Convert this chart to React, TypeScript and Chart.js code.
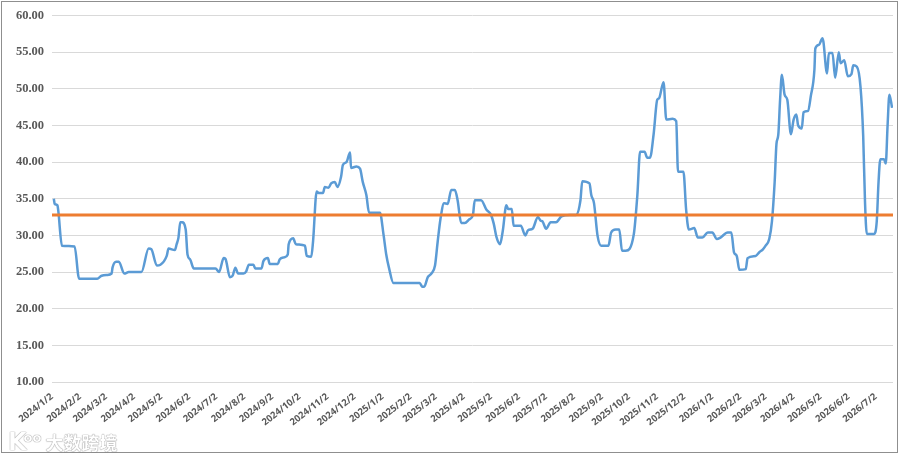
import React, { useEffect, useRef } from "react";
import { Chart, registerables } from "chart.js";

Chart.register(...registerables);

// Days elapsed since 2024/1/2 for each observation
const days = [
  2, 3, 6, 7, 11, 25, 30, 50, 55, 61, 66, 67, 71, 74, 80, 85, 99, 107, 110, 116,
  120, 127, 129, 136, 138, 140, 142, 144, 148, 150, 153, 157, 181, 185, 190, 192, 197, 200, 203, 206,
  212, 215, 218, 223, 225, 232, 234, 239, 241, 250, 252, 257, 261, 262, 267, 270, 280, 282, 287, 289,
  293, 295, 300, 302, 306, 309, 313, 316, 320, 322, 326, 330, 331, 337, 341, 344, 348, 351, 363, 367,
  370, 373, 378, 407, 410, 412, 416, 420, 424, 427, 430, 434, 438, 442, 446, 449, 453, 457, 462, 466,
  468, 475, 481, 486, 489, 492, 496, 499, 503, 505, 509, 511, 519, 524, 527, 532, 538, 541, 543, 547,
  552, 558, 564, 573, 580, 585, 587, 595, 597, 600, 604, 608, 616, 619, 624, 628, 631, 635, 644, 648,
  651, 656, 659, 662, 666, 670, 672, 677, 680, 687, 691, 693, 699, 702, 705, 711, 715, 720, 726, 731,
  736, 740, 748, 752, 755, 758, 761, 768, 770, 779, 783, 787, 790, 794, 797, 800, 802, 804, 806, 808,
  811, 814, 818, 821, 824, 826, 830, 832, 837, 840, 844, 845, 849, 853, 858, 860, 864, 867, 871, 873,
  877, 881, 885, 887, 891, 895, 898, 900, 902, 910, 913, 915, 917, 921, 923, 925, 927, 930,
];

const values = [
  35.0, 34.3, 34.1, 33.3, 28.6, 28.5, 24.1, 24.1, 24.5, 24.6, 24.8, 25.6, 26.4, 26.4, 24.8, 25.0, 25.0, 28.2, 28.1, 25.9,
  26.0, 27.2, 28.2, 28.0, 28.8, 29.7, 31.8, 31.8, 30.8, 27.4, 26.7, 25.5, 25.5, 25.0, 26.9, 26.8, 24.3, 24.5, 25.6, 24.8,
  24.8, 25.1, 26.0, 26.0, 25.5, 25.5, 26.5, 26.9, 26.1, 26.1, 26.7, 27.0, 27.4, 28.8, 29.6, 28.8, 28.6, 27.2, 27.1, 29.2,
  36.0, 35.8, 35.8, 36.6, 36.5, 37.1, 37.3, 36.6, 38.0, 39.6, 40.0, 41.3, 39.2, 39.4, 39.1, 37.3, 35.5, 33.1, 33.1, 30.1,
  27.4, 25.6, 23.5, 23.5, 23.0, 23.0, 24.3, 24.8, 25.9, 29.2, 32.2, 34.4, 34.3, 36.2, 36.2, 34.8, 31.7, 31.7, 32.2, 32.8,
  34.8, 34.8, 33.5, 32.8, 31.6, 29.8, 28.8, 30.6, 34.1, 33.6, 33.6, 31.3, 31.3, 30.0, 30.7, 30.9, 32.5, 32.0, 31.9, 30.9,
  31.8, 31.8, 32.6, 32.8, 32.8, 34.8, 37.4, 37.1, 35.5, 34.4, 29.9, 28.6, 28.6, 30.4, 30.8, 30.8, 27.9, 27.9, 30.1, 35.5,
  41.4, 41.4, 40.6, 40.6, 43.8, 48.5, 48.7, 50.9, 45.8, 45.9, 45.6, 38.7, 38.7, 33.5, 30.8, 31.0, 29.7, 29.7, 30.4, 30.4,
  29.5, 29.7, 30.4, 30.4, 27.7, 27.2, 25.3, 25.4, 26.9, 27.2, 27.7, 28.1, 28.6, 29.5, 31.9, 37.3, 42.5, 43.7, 48.5, 51.9,
  49.2, 48.5, 43.8, 45.8, 46.5, 45.0, 44.6, 46.8, 47.0, 49.0, 52.6, 55.5, 56.0, 56.9, 52.1, 54.9, 54.9, 51.5, 55.0, 53.5,
  53.9, 51.7, 52.0, 53.2, 53.0, 50.3, 43.6, 34.6, 30.2, 30.2, 31.9, 37.3, 40.4, 40.4, 39.8, 45.0, 49.2, 47.4,
];

const averageValue = 32.8;

const monthTickLabels = [
  "2024/1/2", "2024/2/2", "2024/3/2", "2024/4/2", "2024/5/2", "2024/6/2", "2024/7/2", "2024/8/2",
  "2024/9/2", "2024/10/2", "2024/11/2", "2024/12/2", "2025/1/2", "2025/2/2", "2025/3/2", "2025/4/2",
  "2025/5/2", "2025/6/2", "2025/7/2", "2025/8/2", "2025/9/2", "2025/10/2", "2025/11/2", "2025/12/2",
  "2026/1/2", "2026/2/2", "2026/3/2", "2026/4/2", "2026/5/2", "2026/6/2", "2026/7/2",
];

const startDate = "2024/1/2";
const lastDay = 931;

const yMin = 10;
const yMax = 60;
const yStep = 5;

function dayIndex(label: string): number {
  const [y, m, d] = label.split("/").map(Number);
  const [y0, m0, d0] = startDate.split("/").map(Number);
  return Math.round((Date.UTC(y, m - 1, d) - Date.UTC(y0, m0 - 1, d0)) / 86400000);
}

export default function App() {
  const ref = useRef<HTMLCanvasElement>(null);

  useEffect(() => {
    if (!ref.current) return;
    const tickDays = monthTickLabels.map(dayIndex);
    const points = days.map((d, i) => ({ x: d, y: values[i] }));
    const avgLine = [
      { x: 0, y: averageValue },
      { x: lastDay, y: averageValue },
    ];
    const chart = new Chart(ref.current, {
      type: "line",
      data: {
        datasets: [
          {
            data: avgLine,
            borderColor: "#ED7D31",
            borderWidth: 3,
            pointRadius: 0,
            tension: 0,
          },
          {
            data: points,
            borderColor: "#5B9BD5",
            borderWidth: 2.5,
            pointRadius: 0,
            cubicInterpolationMode: "monotone",
          },
        ],
      },
      options: {
        animation: false,
        responsive: false,
        devicePixelRatio: 1,
        layout: { padding: { top: 12, right: 7, bottom: 0, left: 0 } },
        plugins: {
          legend: { display: false },
          tooltip: { enabled: false },
        },
        scales: {
          x: {
            type: "linear",
            min: 0,
            max: lastDay,
            grid: { display: false, drawTicks: false },
            border: { display: false },
            afterBuildTicks: (scale: any) => {
              scale.ticks = tickDays.map((v) => ({ value: v }));
            },
            afterFit: (scale: any) => {
              scale.height = 75;
            },
            ticks: {
              autoSkip: false,
              minRotation: 38,
              maxRotation: 38,
              padding: 9,
              color: "#595959",
              font: { family: "'Open Sans'", size: 9.5, weight: "bold" },
              callback: (_v: any, i: number) => monthTickLabels[i],
            },
          },
          y: {
            min: yMin,
            max: yMax,
            grid: { color: "#d9d9d9", lineWidth: 1, drawTicks: false },
            border: { display: false },
            afterFit: (scale: any) => {
              scale.width = 52;
            },
            ticks: {
              stepSize: yStep,
              padding: 8,
              color: "#595959",
              font: { family: "'Liberation Serif'", size: 12.5, weight: "bold" },
              callback: (v: any) => Number(v).toFixed(2),
            },
          },
        },
      },
    });
    return () => chart.destroy();
  }, []);

  return (
    <div style={{ position: "fixed", left: 0, top: 0, width: 900, height: 457, background: "#fff" }}>
      <canvas ref={ref} width={900} height={457} style={{ position: "absolute", left: 0, top: 0 }} />
      <div
        style={{
          position: "absolute",
          left: 1,
          top: 1,
          width: 897,
          height: 452,
          border: "1px solid #8f8f8f",
          boxSizing: "border-box",
          pointerEvents: "none",
        }}
      />
      <div
        style={{
          position: "absolute",
          left: 8,
          top: 425,
          fontFamily: "'Noto Sans CJK SC'",
          fontSize: 18,
          fontWeight: 700,
          color: "#ffffff",
          textShadow: "0 0 1px #777, 0 0 1px #777",
          opacity: 0.85,
          lineHeight: "25px",
          whiteSpace: "nowrap",
        }}
      >
        <span style={{ fontFamily: "'DejaVu Sans'", fontSize: 24 }}>K</span>
        <span style={{ fontFamily: "'DejaVu Sans'", fontSize: 13, verticalAlign: 8, marginLeft: -3, marginRight: 4 }}>oo</span>
        大数跨境
      </div>
    </div>
  );
}
